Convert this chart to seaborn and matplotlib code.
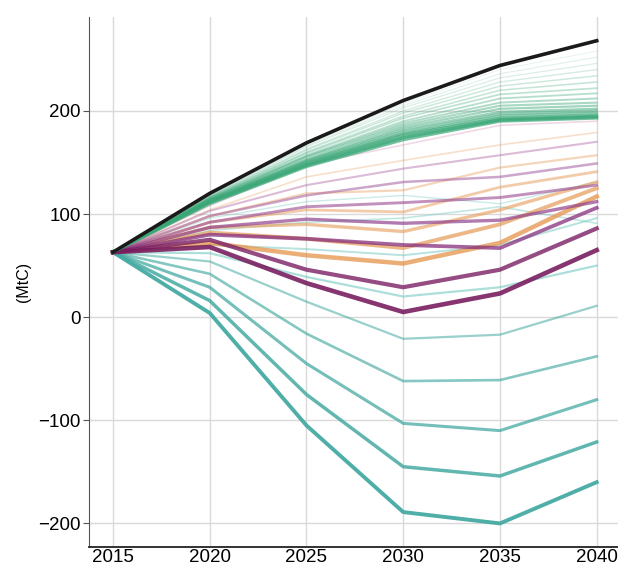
import pandas as pd
import matplotlib.pyplot as plt
import seaborn as sns

years = [2015, 2020, 2025, 2030, 2035, 2040]

# reference (no policy) pathway
black_line = [63, 120, 169, 210, 244, 268]

# green bundle, faint top -> strong bottom
green_lines = [
    [63, 119, 167, 207, 240, 258],
    [63, 118.5, 166, 205, 236, 252],
    [63, 118, 165, 203, 232, 246],
    [63, 117.5, 163, 200, 228, 240],
    [63, 117, 162, 198, 224, 234],
    [63, 116.5, 160, 195, 220, 228],
    [63, 116, 159, 193, 216, 222],
    [63, 115.5, 157, 190, 212, 217],
    [63, 115, 156, 188, 208, 212],
    [63, 114.5, 155, 186, 205, 208],
    [63, 114, 153, 184, 202, 205],
    [63, 113.5, 152, 182, 199, 202],
    [63, 113, 151, 180, 197, 200],
    [63, 112.5, 150, 178, 195, 198],
    [63, 112, 149, 177, 193, 196],
    [63, 111.5, 148, 175, 192, 195],
    [63, 111, 147, 174, 191, 194],
    [63, 110, 146, 172, 190, 193],
]

# purple pathways, light -> dark
purple_lines = [
    [63, 108, 148, 167, 186, 190],
    [63, 103, 128, 144, 157, 170],
    [63, 98, 118, 131, 136, 149],
    [63, 92, 107, 111, 116, 128],
    [63, 87, 95, 91, 94, 112],
    [63, 80, 76, 70, 67, 106],
    [63, 75, 46, 29, 46, 86],
    [63, 68, 33, 5, 23, 65],
]

# orange pathways, light -> strong
orange_lines = [
    [63, 104, 136, 152, 167, 179],
    [63, 98, 120, 123, 145, 157],
    [63, 92, 104, 102, 126, 141],
    [63, 87, 90, 83, 104, 131],
    [63, 82, 76, 67, 90, 125],
    [63, 72, 60, 52, 72, 117],
]

# light cyan pathways
cyan_lines = [
    [63, 96, 112, 118, 110, 131],
    [63, 84, 92, 96, 107, 91],
    [63, 70, 66, 60, 70, 96],
    [63, 62, 39, 20, 29, 50],
]

# teal pathways (deep cuts)
teal_lines = [
    [63, 54, 15, -21, -17, 11],
    [63, 42, -16, -62, -61, -38],
    [63, 29, -45, -103, -110, -80],
    [63, 16, -75, -145, -154, -121],
    [63, 4, -105, -189, -200, -160],
]

y_ticks = [-200, -100, 0, 100, 200]

plt.rcParams["font.family"] = ["Liberation Sans", "DejaVu Sans"]

fig = plt.figure(figsize=(6.18, 5.67), dpi=100)
ax = fig.add_axes([0.144, 0.035, 0.856, 0.935])


def draw(vals, color, lw, alpha):
    d = pd.DataFrame({"year": years, "value": vals})
    sns.lineplot(data=d, x="year", y="value", color=color, lw=lw, alpha=alpha, ax=ax)


for i, v in enumerate(teal_lines):
    draw(v, "#45aaa2", 1.6 + 0.3 * i, 0.55 + 0.1 * i)

for i, v in enumerate(cyan_lines):
    draw(v, "#7fcdc5", 1.0 + 0.2 * i, 0.4 + 0.08 * i)

for i, v in enumerate(orange_lines):
    draw(v, "#e69a55", 1.2 + 0.4 * i, 0.3 + 0.1 * i)

purple_cols = ["#d9a0c0", "#b46fa8", "#a25a9e", "#9a4a93", "#8e3c8a", "#862f7d", "#7d2468", "#781c5e"]
for i, v in enumerate(purple_lines):
    draw(v, purple_cols[i], 1.2 + 0.3 * i, 0.4 + 0.07 * i)

for i, v in enumerate(green_lines):
    draw(v, "#3aa777", 0.7 + 0.09 * i, 0.12 + 0.035 * i)

draw(black_line, "#1a1a1a", 2.6, 1.0)

ax.set_xlim(2013.76, 2041.1)
ax.set_ylim(-223, 291)
ax.set_xticks(years)
ax.set_yticks(y_ticks)
ax.grid(True, color="#d9d9d9", lw=1)
ax.set_axisbelow(True)
for s in ["top", "right"]:
    ax.spines[s].set_visible(False)
ax.spines["left"].set_color("#555555")
ax.spines["bottom"].set_color("#222222")
ax.spines["bottom"].set_linewidth(1.3)
ax.tick_params(axis="x", length=0, labelsize=13.5, pad=1)
ax.tick_params(axis="y", length=4, color="#555555", labelsize=13.5, pad=2)
ax.set_xlabel("")
ax.set_ylabel("(MtC)", fontsize=11.5, labelpad=5)

plt.savefig("out.png", dpi=100)
